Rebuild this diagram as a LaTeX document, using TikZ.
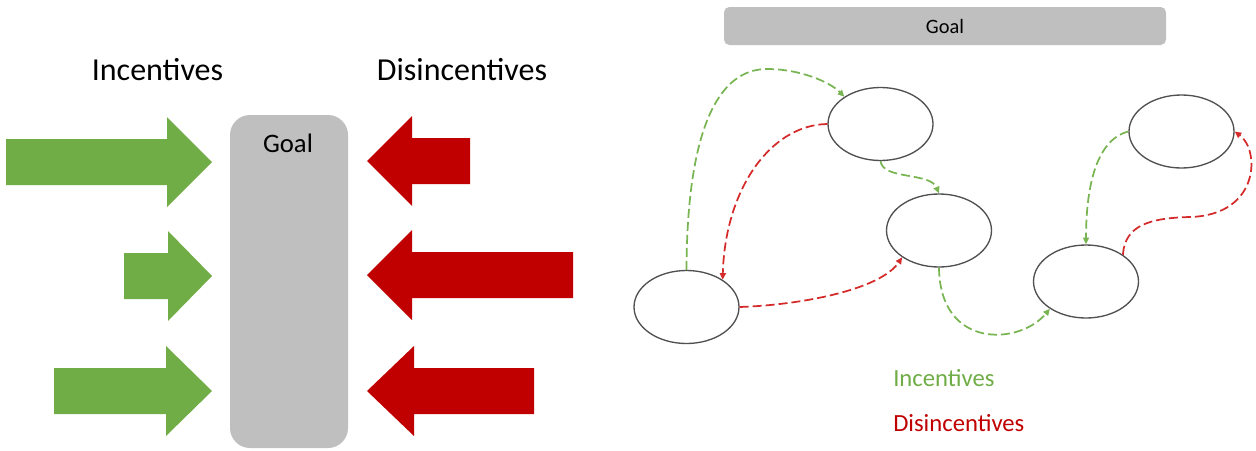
\documentclass[tikz,border=0pt]{standalone}
\usepackage{fontspec}
\setmainfont{Carlito}
\usetikzlibrary{arrows.meta,shapes.geometric}
\definecolor{incgreen}{HTML}{70AD47}
\definecolor{dashgreen}{HTML}{78B552}
\definecolor{disred}{HTML}{C00000}
\definecolor{dashred}{HTML}{D42A2A}
\definecolor{goalgray}{HTML}{BFBFBF}
\definecolor{ringgray}{HTML}{505050}
\tikzset{
  headtext/.style={font=\fontsize{24}{28}\selectfont, inner sep=0pt},
  legendtext/.style={font=\fontsize{18.5}{22}\selectfont, inner sep=0pt, anchor=west},
  state/.style={draw=ringgray, line width=1pt, ellipse, minimum width=78.75pt, minimum height=54.75pt, inner sep=0pt},
  link/.style={line width=1.3pt, dash pattern=on 6.75pt off 3pt, -{Triangle[length=5pt,width=4.5pt]}},
  inclink/.style={link, dashgreen},
  dislink/.style={link, dashred},
}
\begin{document}
\begin{tikzpicture}[x=0.75pt, y=-0.75pt]
\useasboundingbox (0,0) rectangle (1256,450);

% ---------- left panel ----------
\node[headtext] (hinc) at (157.5,70) {Incentives};
\node[headtext] (hdis) at (462,70) {Disincentives};

\node[fill=goalgray, rounded corners=15pt, minimum width=88.5pt, minimum height=249.75pt, inner sep=0pt] (goalL) at (289,281.5) {};
\node[font=\fontsize{20}{24}\selectfont, inner sep=0pt] (goalLt) at (288,143) {Goal};

% green arrows
\fill[incgreen] (6,139) -- (167,139) -- (167,117) -- (212,162) -- (167,207) -- (167,185) -- (6,185) -- cycle;
\fill[incgreen] (124,253) -- (168,253) -- (168,231) -- (212,276) -- (168,321) -- (168,299) -- (124,299) -- cycle;
\fill[incgreen] (54,368) -- (166,368) -- (166,346) -- (212,391) -- (166,436) -- (166,414) -- (54,414) -- cycle;
% red arrows
\fill[disred] (470,138) -- (412,138) -- (412,116) -- (367,161) -- (412,206) -- (412,184) -- (470,184) -- cycle;
\fill[disred] (573,252) -- (412,252) -- (412,230) -- (367,275) -- (412,320) -- (412,298) -- (573,298) -- cycle;
\fill[disred] (534,368) -- (414,368) -- (414,346) -- (367,391) -- (414,436) -- (414,414) -- (534,414) -- cycle;

% ---------- right panel ----------
\node[fill=goalgray, rounded corners=4pt, minimum width=331.5pt, minimum height=28.5pt, inner sep=0pt,
      font=\fontsize{15.3}{18}\selectfont] (goalR) at (945,26) {Goal};

\node[state] (A) at (686.5,307) {};
\node[state] (B) at (880.5,124) {};
\node[state] (C) at (939,230.5) {};
\node[state] (D) at (1181.5,131.5) {};
\node[state] (E) at (1086,281.5) {};

\coordinate (g1m) at (767,69);
\coordinate (r3m) at (1190,217);

\draw[inclink] (A.north) .. controls (687,130) and (718,69) .. (g1m) .. controls (800,69) and (830,82) .. (B.143);
\draw[dislink] (B.west) .. controls (770,125) and (725,190) .. (A.37);
\draw[inclink] (B.south) .. controls (883,180) and (930,172) .. (C.north);
\draw[dislink] (A.east) .. controls (800,305) and (880,290) .. (C.216);
\draw[inclink] (C.south) .. controls (940,350) and (1020,345) .. (E.217);
\draw[inclink] (D.west) .. controls (1095,140) and (1086,190) .. (E.north);
\draw[dislink] (E.36) .. controls (1125,225) and (1150,218) .. (r3m) .. controls (1260,215) and (1260,150) .. (D.east);

\node[legendtext, text=incgreen] (linc) at (893,378) {Incentives};
\node[legendtext, text=disred] (ldis) at (893,423) {Disincentives};
\end{tikzpicture}
\end{document}
